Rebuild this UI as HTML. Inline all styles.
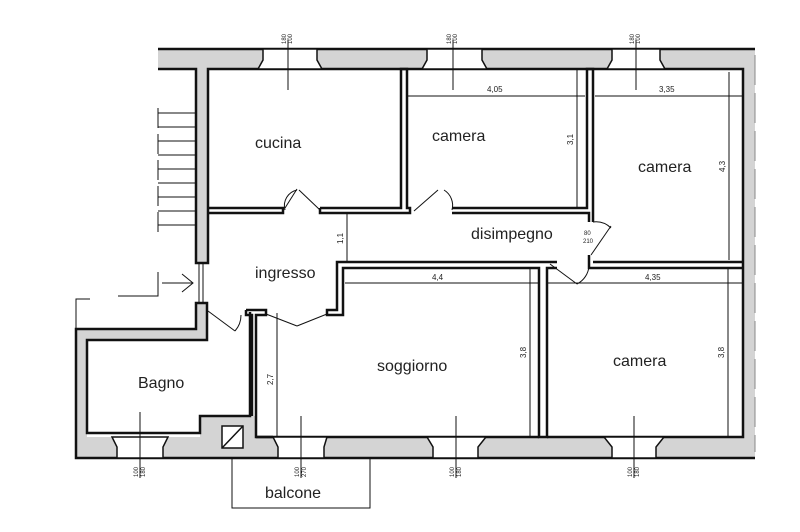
<!DOCTYPE html>
<html><head><meta charset="utf-8"><style>
html,body{margin:0;padding:0;background:#fff;width:800px;height:532px;overflow:hidden}
svg{display:block}
text{font-family:"Liberation Sans",sans-serif;fill:#222}
.r{font-size:16px}
.d{font-size:8px}
.s{font-size:6px}
</style></head><body>
<svg width="800" height="532" viewBox="0 0 800 532" xmlns="http://www.w3.org/2000/svg">
<g fill="#d4d4d4">
<rect x="158" y="49" width="597" height="20"/>
<rect x="743" y="49" width="12" height="409"/>
<rect x="76" y="437" width="679" height="21"/>
<rect x="196" y="69" width="12" height="194"/>
<rect x="76" y="329" width="11" height="129"/>
<rect x="76" y="329" width="131" height="11"/>
<rect x="196" y="303" width="11" height="37"/>
<rect x="200" y="416" width="56" height="21"/>
</g>
<g fill="none" stroke="#111" stroke-width="2.5">
<polyline points="158,49 755,49"/>
<polyline points="755,458 76,458 76,329 196,329 196,303 207,303 207,340 87,340 87,433 200,433 200,416 250,416 250,312"/>
<polyline points="158,69 196,69 196,263 208,263 208,69 743,69 743,437 547,437"/>
<polyline points="208,208 283,208 283,213 208,213"/>
<polyline points="320,208 401,208 401,69 407,69 407,208 410,208 410,213 320,213 320,208"/>
<polyline points="452,208 587,208 587,69 593,69 593,222"/>
<polyline points="452,213 589,213 589,222"/>
<polyline points="589,255 589,268 743,268"/>
<polyline points="593,262 743,262"/>
<polyline points="557,262 337,262 337,310 327,310 327,315 343,315 343,268 539,268 539,437 547,437 547,268 557,268"/>
<polyline points="246,310 266,310 266,315 256,315 256,437 273,437"/>
<polyline points="246,310 246,315 252,315 252,416"/>
<polyline points="256,437 539,437"/>
</g>
<line x1="755" y1="55" x2="755" y2="452" stroke="#888" stroke-width="1" stroke-dasharray="30,8"/>
<g fill="#fff" stroke="#111" stroke-width="1.5">
<path d="M263,49 L317,49 L317,60 L322,69 L258,69 L263,60 Z"/>
<path d="M427,49 L482,49 L482,60 L487,69 L422,69 L427,60 Z"/>
<path d="M612,49 L660,49 L660,60 L665,69 L607,69 L612,60 Z"/>
<path d="M117,458 L163,458 L163,447 L168,437 L112,437 L117,447 Z"/>
<path d="M278,458 L324,458 L324,447 L327,437 L273,437 L278,447 Z"/>
<path d="M433,458 L478,458 L478,447 L486,437 L427,437 L433,447 Z"/>
<path d="M612,458 L656,458 L656,447 L664,437 L604,437 L612,447 Z"/>
<rect x="222" y="426" width="21" height="22"/>
<line x1="222" y1="448" x2="243" y2="426"/>
</g>
<g stroke="#111" stroke-width="1" fill="none">
<polyline points="232,458 232,508 370,508 370,458"/>
<line x1="158" y1="108" x2="158" y2="236" stroke-dasharray="20,6"/>
<line x1="158" y1="113" x2="196" y2="113"/><line x1="158" y1="127" x2="196" y2="127"/>
<line x1="158" y1="141" x2="196" y2="141"/><line x1="158" y1="155" x2="196" y2="155"/>
<line x1="158" y1="169" x2="196" y2="169"/><line x1="158" y1="183" x2="196" y2="183"/>
<line x1="158" y1="197" x2="196" y2="197"/><line x1="158" y1="211" x2="196" y2="211"/>
<line x1="158" y1="225" x2="196" y2="225"/>
<line x1="199" y1="263" x2="199" y2="303"/><line x1="203" y1="263" x2="203" y2="303"/>
<polyline points="158,272 158,296 118,296"/><polyline points="76,339 76,299 90,299"/>
<line x1="162" y1="283" x2="193" y2="283"/><polyline points="182,274 193,283 182,292"/>
<line x1="285" y1="208" x2="297" y2="189"/><line x1="320" y1="210" x2="299" y2="190"/><path d="M285,210 A16,16 0 0 1 297,190"/>
<line x1="414" y1="211" x2="438" y2="190"/><path d="M452,210 A18,18 0 0 0 444,190"/>
<line x1="591" y1="255" x2="611" y2="226"/><path d="M593,222 A22,22 0 0 1 611,228"/>
<line x1="550" y1="264" x2="577" y2="284"/><path d="M577,284 A22,22 0 0 0 589,266"/>
<line x1="208" y1="311" x2="235" y2="331"/><path d="M235,331 A24,24 0 0 0 241,315"/>
<line x1="266" y1="314" x2="297" y2="326"/><line x1="327" y1="314" x2="297" y2="326"/>
<line x1="408" y1="96" x2="585" y2="96"/><line x1="595" y1="96" x2="742" y2="96"/>
<line x1="577" y1="69" x2="577" y2="208"/><line x1="729" y1="72" x2="729" y2="260"/>
<line x1="345" y1="283" x2="538" y2="283"/><line x1="548" y1="283" x2="742" y2="283"/>
<line x1="530" y1="268" x2="530" y2="436"/><line x1="728" y1="268" x2="728" y2="436"/>
<line x1="277" y1="313" x2="277" y2="436"/><line x1="347" y1="214" x2="347" y2="262"/>
<line x1="288" y1="40" x2="288" y2="90"/><line x1="453" y1="40" x2="453" y2="90"/><line x1="636" y1="40" x2="636" y2="90"/>
<line x1="140" y1="412" x2="140" y2="478"/><line x1="301" y1="416" x2="301" y2="478"/>
<line x1="456" y1="416" x2="456" y2="478"/><line x1="634" y1="416" x2="634" y2="478"/>
</g>
<g class="r">
<text x="255" y="148">cucina</text>
<text x="432" y="141">camera</text>
<text x="638" y="172">camera</text>
<text x="471" y="239">disimpegno</text>
<text x="255" y="278">ingresso</text>
<text x="377" y="371">soggiorno</text>
<text x="613" y="366">camera</text>
<text x="138" y="388">Bagno</text>
<text x="265" y="498">balcone</text>
</g>
<g class="d">
<text x="487" y="92">4,05</text><text x="659" y="92">3,35</text>
<text x="432" y="280">4,4</text><text x="645" y="280">4,35</text>
<text transform="translate(573,145) rotate(-90)">3,1</text>
<text transform="translate(725,172) rotate(-90)">4,3</text>
<text transform="translate(526,358) rotate(-90)">3,8</text>
<text transform="translate(724,358) rotate(-90)">3,8</text>
<text transform="translate(273,385) rotate(-90)">2,7</text>
<text transform="translate(343,244) rotate(-90)">1,1</text>
</g>
<g class="s">
<text transform="translate(286,44) rotate(-90)">180</text><text transform="translate(292,44) rotate(-90)">100</text>
<text transform="translate(451,44) rotate(-90)">180</text><text transform="translate(457,44) rotate(-90)">100</text>
<text transform="translate(634,44) rotate(-90)">180</text><text transform="translate(640,44) rotate(-90)">100</text>
<text transform="translate(138,477) rotate(-90)">100</text><text transform="translate(145,477) rotate(-90)">180</text>
<text transform="translate(299,477) rotate(-90)">100</text><text transform="translate(306,477) rotate(-90)">270</text>
<text transform="translate(454,477) rotate(-90)">100</text><text transform="translate(461,477) rotate(-90)">180</text>
<text transform="translate(632,477) rotate(-90)">100</text><text transform="translate(639,477) rotate(-90)">180</text>
<text x="584" y="235">80</text><text x="583" y="243">210</text>
</g>
</svg>
</body></html>
